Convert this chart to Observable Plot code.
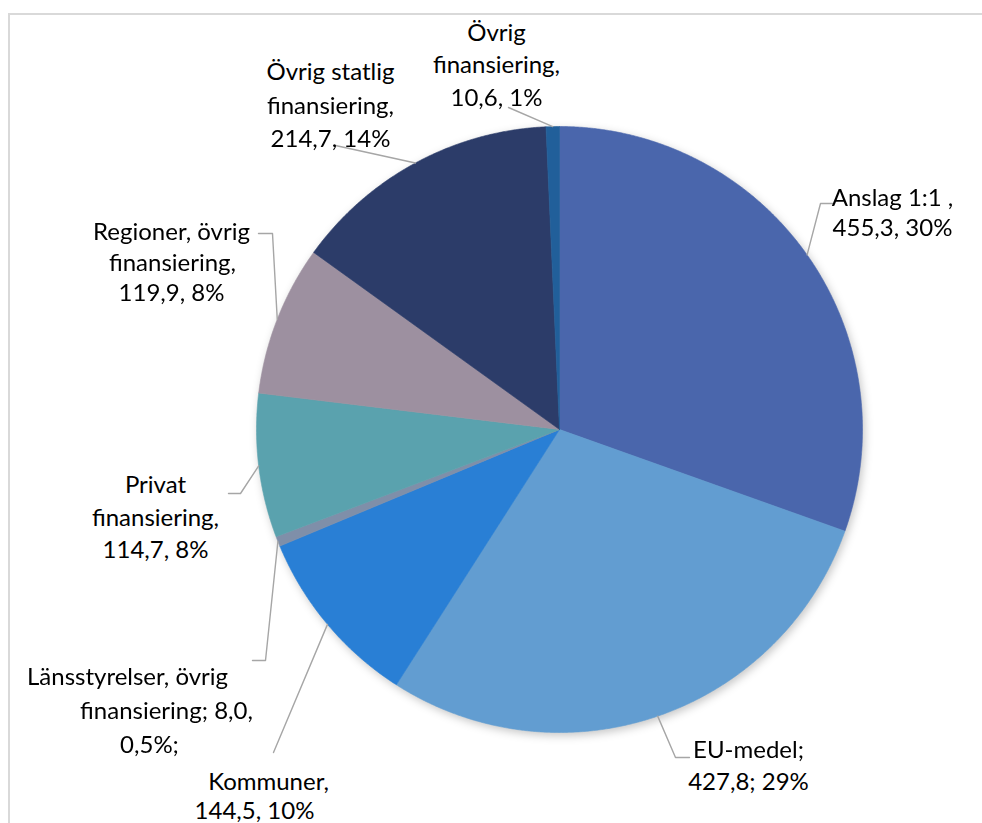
<!DOCTYPE html>
<html>
<head>
<meta charset="utf-8">
<script src="https://cdn.jsdelivr.net/npm/d3@7"></script>
<script src="https://cdn.jsdelivr.net/npm/@observablehq/plot@0.6"></script>
<style>
  html, body { margin: 0; padding: 0; background: #fff; overflow: hidden; }
  #frame { position: absolute; left: 8px; top: 13px; width: 1000px; height: 900px; border: 2px solid #d9d9d9; }
  #chart { position: absolute; left: 0; top: 0; }
</style>
</head>
<body>
<div id="frame"></div>
<div id="chart"></div>
<script>
// ---------- data ----------
const categories = [
  "Anslag 1:1",
  "EU-medel",
  "Kommuner",
  "Länsstyrelser, övrig finansiering",
  "Privat finansiering",
  "Regioner, övrig finansiering",
  "Övrig statlig finansiering",
  "Övrig finansiering"
];
const values = [455.3, 427.8, 144.5, 8.0, 114.7, 119.9, 214.7, 10.6];
const labelLines = [
  ["Anslag 1:1 ,", "455,3, 30%"],
  ["EU-medel;", "427,8; 29%"],
  ["Kommuner,", "144,5, 10%"],
  ["Länsstyrelser, övrig", "finansiering; 8,0,", "0,5%;"],
  ["Privat", "finansiering,", "114,7, 8%"],
  ["Regioner, övrig", "finansiering,", "119,9, 8%"],
  ["Övrig statlig", "finansiering,", "214,7, 14%"],
  ["Övrig", "finansiering,", "10,6, 1%"]
];
const colors = ["#4a66ac", "#629dd1", "#297fd5", "#7f8fa9", "#5aa2ae", "#9d90a0", "#2c3c69", "#215f9a"];

// ---------- layout (pixels) ----------
const W = 982, H = 823;
const cx = 559, cy = 429, R = 303;
const labelPos = [
  [[892, 198], [892, 228]],
  [[748, 750], [748, 782]],
  [[268, 782], [254, 811]],
  [[127, 677], [166, 711], [149, 745]],
  [[155, 485], [155, 518], [155, 550]],
  [[171, 232], [172, 263], [171, 293]],
  [[330, 72], [330, 106], [330, 139]],
  [[496, 33], [496, 65], [496, 98]]
];
const leaderPts = [
  [[832, 203], [820, 203]],
  [[689, 757], [675, 757]],
  [[273, 752]],
  [[252, 660], [265, 660]],
  [[228, 493], [240, 493]],
  [[258, 233], [272, 233]],
  [[335, 145]],
  [[508, 107]]
];

// ---------- geometry from data ----------
const data = categories.map((name, i) => ({name, value: values[i]}));
const pie = d3.pie().value(d => d.value).sort(null)(data);

const sliceMarks = pie.map((p, i) => {
  const pts = [{x: cx, y: cy}];
  const n = Math.max(4, Math.ceil((p.endAngle - p.startAngle) / (Math.PI / 720)));
  for (let k = 0; k <= n; k++) {
    const a = p.startAngle + (p.endAngle - p.startAngle) * k / n;
    pts.push({x: cx + R * Math.sin(a), y: cy - R * Math.cos(a)});
  }
  pts.push({x: cx, y: cy});
  return Plot.line(pts, {x: "x", y: "y", fill: colors[i], stroke: colors[i], strokeWidth: 0.6, curve: "linear", className: "slice"});
});

const leaderRows = [];
pie.forEach((p, i) => {
  const a = (p.startAngle + p.endAngle) / 2;
  leaderPts[i].forEach(([x, y]) => leaderRows.push({name: p.data.name, x, y}));
  leaderRows.push({name: p.data.name, x: cx + R * Math.sin(a), y: cy - R * Math.cos(a)});
});

const textRows = [];
labelLines.forEach((lines, i) => {
  lines.forEach((t, j) => textRows.push({text: t, x: labelPos[i][j][0], y: labelPos[i][j][1]}));
});

const plot = Plot.plot({
  width: W,
  height: H,
  margin: 0,
  x: {domain: [0, W], range: [0, W], axis: null},
  y: {domain: [0, H], range: [0, H], axis: null},
  style: {background: "transparent", overflow: "visible"},
  marks: [
    ...sliceMarks,
    Plot.line(leaderRows, {x: "x", y: "y", z: "name", stroke: "#a6a6a6", strokeWidth: 1.4, curve: "linear"}),
    Plot.text(textRows, {x: "x", y: "y", text: "text", fontSize: 24, fontFamily: "Lato, 'Open Sans', sans-serif", fill: "#000", textAnchor: "middle", lineAnchor: "middle"})
  ]
});

// group all slices and give the whole pie one soft drop shadow
const sliceGroups = Array.from(plot.querySelectorAll("g")).filter(g => (g.getAttribute("class") || "").includes("slice"));
if (sliceGroups.length) {
  const wrap = document.createElementNS("http://www.w3.org/2000/svg", "g");
  sliceGroups[0].parentNode.insertBefore(wrap, sliceGroups[0]);
  sliceGroups.forEach(g => wrap.appendChild(g));
  wrap.style.filter = "drop-shadow(2px 3px 4px rgba(0,0,0,0.22))";
}

document.getElementById("chart").appendChild(plot);
</script>
</body>
</html>
